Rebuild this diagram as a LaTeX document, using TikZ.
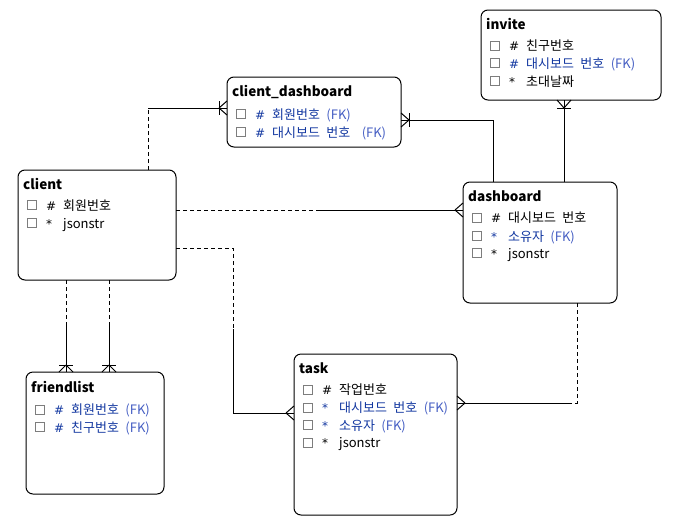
\documentclass[tikz,border=0pt]{standalone}
\usepackage{fontspec}
\setmainfont{Noto Sans CJK KR}[WordSpace=2.2]
\newfontfamily\markfont{DejaVu Sans}
\usetikzlibrary{calc}
\definecolor{fkblue}{RGB}{18,55,160}
\definecolor{fklight}{RGB}{70,95,195}
\definecolor{boxgray}{RGB}{125,125,125}
\tikzset{
  entity/.style={draw, line width=1pt, rounded corners=7pt, inner sep=0pt, outer sep=0pt, anchor=north west},
  etitle/.style={font=\bfseries\fontsize{13.5}{16}\selectfont, anchor=base west, inner sep=0pt},
  attr/.style={font=\fontsize{13}{15}\selectfont, anchor=base west, inner sep=0pt},
  keymark/.style={font=\markfont\fontsize{12}{14}\selectfont, anchor=base west, inner sep=0pt},
  chk/.style={draw=boxgray, line width=0.8pt, minimum size=9pt, inner sep=0pt, anchor=west},
  ln/.style={line width=1pt},
  dsh/.style={line width=1pt, dash pattern=on 4pt off 3pt},
  crowE/.pic={\draw[ln] (-8,0) -- (0,-7) (-8,0) -- (0,7);},
  barE/.pic={\draw[ln] (-8,-7) -- (-8,7);},
  crowW/.pic={\draw[ln] (8,0) -- (0,-7) (8,0) -- (0,7);},
  barW/.pic={\draw[ln] (8,-7) -- (8,7);},
  crowS/.pic={\draw[ln] (0,-7) -- (-7,0) (0,-7) -- (7,0);},
  barS/.pic={\draw[ln] (-7,-7) -- (7,-7);},
  crowN/.pic={\draw[ln] (0,8) -- (-7,0) (0,8) -- (7,0);},
  barN/.pic={\draw[ln] (-7,8) -- (7,8);},
}
% entity, row id, baseline offset from top, marker, text
\newcommand{\attrrow}[5]{%
  \node[chk] (#1-#2b) at ([xshift=9pt,yshift=-#3pt+5pt]#1.north west) {};
  \node[keymark] (#1-#2m) at ([xshift=28pt,yshift=-#3pt]#1.north west) {#4};
  \node[attr] (#1-#2t) at ([xshift=45pt,yshift=-#3pt]#1.north west) {#5};
}
\begin{document}
\begin{tikzpicture}[x=1pt,y=-1pt]
\useasboundingbox (0,0) rectangle (676,525);

% entities
\node[entity, minimum width=158pt, minimum height=110pt] (client) at (18,170) {};
\node[entity, minimum width=174pt, minimum height=70pt] (cdash) at (227,77) {};
\node[entity, minimum width=180pt, minimum height=90pt] (invite) at (481,10) {};
\node[entity, minimum width=154pt, minimum height=121pt] (dash) at (463,182) {};
\node[entity, minimum width=138pt, minimum height=122pt] (friend) at (26,372) {};
\node[entity, minimum width=163pt, minimum height=161pt] (task) at (294,354) {};

% titles
\node[etitle] (client-title) at ([xshift=5pt,yshift=-19pt]client.north west) {client};
\node[etitle] (cdash-title) at ([xshift=5pt,yshift=-19pt]cdash.north west) {client\_dashboard};
\node[etitle] (invite-title) at ([xshift=5pt,yshift=-19pt]invite.north west) {invite};
\node[etitle] (dash-title) at ([xshift=5pt,yshift=-19pt]dash.north west) {dashboard};
\node[etitle] (friend-title) at ([xshift=5pt,yshift=-20pt]friend.north west) {friendlist};
\node[etitle] (task-title) at ([xshift=5pt,yshift=-19pt]task.north west) {task};

% rows
\attrrow{client}{1}{40}{\#}{회원번호}
\attrrow{client}{2}{58}{*}{jsonstr}

\attrrow{cdash}{1}{42}{\color{fkblue}\#}{\color{fkblue}회원번호 \color{fklight}(FK)}
\attrrow{cdash}{2}{60}{\color{fkblue}\#}{\color{fkblue}대시보드 번호\hspace{5pt} \color{fklight}(FK)}

\attrrow{invite}{1}{40.5}{\#}{친구번호}
\attrrow{invite}{2}{58}{\color{fkblue}\#}{\color{fkblue}대시보드 번호 \color{fklight}(FK)}
\attrrow{invite}{3}{76}{*}{초대날짜}

\attrrow{dash}{1}{40.5}{\#}{대시보드 번호}
\attrrow{dash}{2}{59}{\color{fkblue}*}{\color{fkblue}소유자 \color{fklight}(FK)}
\attrrow{dash}{3}{76}{*}{jsonstr}

\attrrow{friend}{1}{42.5}{\color{fkblue}\#}{\color{fkblue}회원번호 \color{fklight}(FK)}
\attrrow{friend}{2}{60}{\color{fkblue}\#}{\color{fkblue}친구번호 \color{fklight}(FK)}

\attrrow{task}{1}{40.5}{\#}{작업번호}
\attrrow{task}{2}{58.5}{\color{fkblue}*}{\color{fkblue}대시보드 번호 \color{fklight}(FK)}
\attrrow{task}{3}{76}{\color{fkblue}*}{\color{fkblue}소유자 \color{fklight}(FK)}
\attrrow{task}{4}{93.5}{*}{jsonstr}

% connector 1: client -> client_dashboard
\coordinate (p1) at ([xshift=130pt]client.north west);
\coordinate (q1) at ([yshift=4pt]cdash.west);
\draw[dsh] (p1) -- (p1 |- q1);
\draw[ln] (p1 |- q1) -- (q1);
\pic at (q1) {crowE};
\pic at (q1) {barE};

% connector 2: dashboard -> client_dashboard
\coordinate (p2) at ([xshift=30pt]dash.north west);
\coordinate (q2) at ([yshift=-8pt]cdash.east);
\draw[ln] (p2) |- (q2);
\pic at (q2) {crowW};
\pic at (q2) {barW};

% connector 3: dashboard -> invite
\coordinate (p3) at ([xshift=101pt]dash.north west);
\coordinate (q3) at (p3 |- invite.south);
\draw[ln] (p3) -- (q3);
\pic at (q3) {crowN};
\pic at (q3) {barN};

% connector 4: client -> dashboard
\coordinate (p4) at ([yshift=15pt]client.east);
\coordinate (q4) at (p4 -| dash.west);
\coordinate (m4) at ($(p4)!0.5!(q4)$);
\draw[dsh] (p4) -- (m4);
\draw[ln] (m4) -- (q4);
\pic at (q4) {crowE};

% connector 5/6: client -> friendlist
\coordinate (p5) at ([xshift=48pt]client.south west);
\coordinate (q5) at (p5 |- friend.north);
\coordinate (m5) at ($(p5)!0.5!(q5)$);
\draw[dsh] (p5) -- (m5);
\draw[ln] (m5) -- (q5);
\pic at (q5) {crowS};
\pic at (q5) {barS};
\coordinate (p6) at ([xshift=91pt]client.south west);
\coordinate (q6) at (p6 |- friend.north);
\coordinate (m6) at ($(p6)!0.5!(q6)$);
\draw[dsh] (p6) -- (m6);
\draw[ln] (m6) -- (q6);
\pic at (q6) {crowS};
\pic at (q6) {barS};

% connector 7: client -> task
\coordinate (p7) at ([yshift=-23pt]client.east);
\coordinate (q7) at ([yshift=21.5pt]task.west);
\coordinate (a7) at ([xshift=57pt]p7);
\coordinate (m7) at ([yshift=-81pt]a7);
\draw[dsh] (p7) -- (a7) -- (m7);
\draw[ln] (m7) |- (q7);
\pic at (q7) {crowE};

% connector 8: dashboard -> task
\coordinate (p8) at ([xshift=114pt]dash.south west);
\coordinate (q8) at ([yshift=31.5pt]task.east);
\coordinate (c8) at (p8 |- q8);
\coordinate (m8) at ([xshift=-8pt]c8);
\draw[dsh] (p8) -- (c8) -- (m8);
\draw[ln] (m8) -- (q8);
\pic at (q8) {crowW};
\end{tikzpicture}
\end{document}
